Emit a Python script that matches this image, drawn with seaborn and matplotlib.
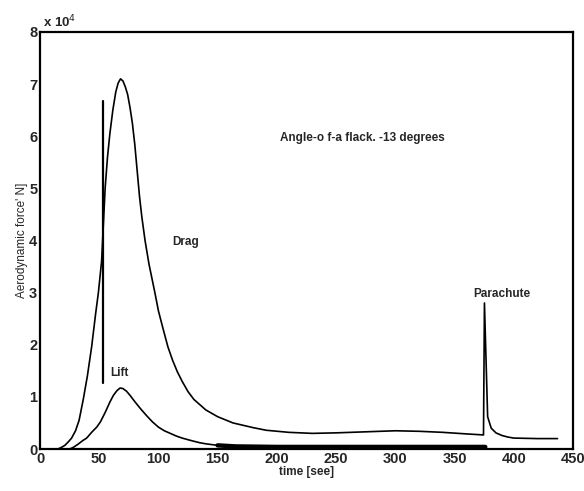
import numpy as np
import pandas as pd
import matplotlib
matplotlib.use("Agg")
import matplotlib.pyplot as plt
import seaborn as sns

# ---- data (force in units of 1e4 N) ----
drag_t = [15, 18, 21, 24, 26.7, 30, 33, 36.6, 40, 43.6, 47, 49.3, 52, 53.5, 55, 57,
          59, 61.5, 64, 66, 68, 70, 72, 74, 76, 78, 80, 82, 84, 86, 88.7, 92, 97, 100,
          104, 108, 112, 116, 120, 125, 130, 140, 150, 163, 180, 191, 210, 230, 250,
          275, 300, 320, 340, 360, 374.5, 375.3, 378, 381, 385, 390, 395, 400, 420, 437]
drag_f = [0.0, 0.03, 0.07, 0.14, 0.21, 0.35, 0.55, 0.96, 1.4, 1.96, 2.6, 3.0, 3.6,
          4.3, 5.0, 5.6, 6.05, 6.5, 6.85, 7.02, 7.1, 7.06, 6.95, 6.8, 6.55, 6.25,
          5.85, 5.35, 4.85, 4.45, 4.0, 3.55, 3.0, 2.65, 2.3, 1.96, 1.7, 1.48, 1.3,
          1.1, 0.95, 0.75, 0.62, 0.5, 0.41, 0.36, 0.32, 0.30, 0.31, 0.33, 0.35, 0.34,
          0.32, 0.29, 0.27, 2.8, 0.62, 0.4, 0.31, 0.26, 0.23, 0.21, 0.2, 0.2]

lift_t = [25, 28, 32, 36, 39.4, 44, 47.9, 51, 55, 59, 62, 65, 67.6, 70, 73, 76, 80,
          85, 90, 95, 100, 105, 110, 115, 120, 128, 135, 140, 150, 165, 200, 250,
          300, 350, 376]
lift_f = [0.0, 0.03, 0.09, 0.16, 0.21, 0.33, 0.42, 0.52, 0.7, 0.9, 1.03, 1.12, 1.17,
          1.16, 1.11, 1.03, 0.91, 0.77, 0.64, 0.52, 0.42, 0.35, 0.3, 0.25, 0.21, 0.16,
          0.12, 0.1, 0.07, 0.05, 0.04, 0.04, 0.04, 0.04, 0.04]

marker_t = [53, 53]
marker_f = [1.27, 6.68]

drag = pd.DataFrame({"t": drag_t, "f": drag_f})
lift = pd.DataFrame({"t": lift_t, "f": lift_f})
tail = lift[lift["t"] >= 150]

sns.set_style("white")
plt.rcParams["font.family"] = ["Liberation Sans", "DejaVu Sans"]

fig = plt.figure(figsize=(5.84, 4.91), dpi=100)
ax = fig.add_axes([0.0685, 0.0855, 0.9125, 0.8495])

sns.lineplot(data=drag, x="t", y="f", color="black", lw=1.2, sort=False, ax=ax)
sns.lineplot(data=lift, x="t", y="f", color="black", lw=1.2, sort=False, ax=ax)
# noisy lift tail shows as a thick band near zero
sns.lineplot(data=tail, x="t", y="f", color="black", lw=3.2, sort=False, ax=ax)
ax.plot(marker_t, marker_f, color="black", lw=1.6)

ax.set_xlim(0, 450)
ax.set_ylim(0, 8)
ax.set_xticks(range(0, 451, 50))
ax.set_yticks(range(0, 9))
ax.tick_params(direction="in", length=3, width=1, labelsize=10.5, pad=2)
for lbl in ax.get_xticklabels() + ax.get_yticklabels():
    lbl.set_fontweight("bold")
for s in ax.spines.values():
    s.set_linewidth(1.6)
    s.set_color("black")

ax.set_xlabel("time [see]", fontsize=8.5, fontweight="bold", labelpad=0)
ax.set_ylabel("Aerodynamic force' N]", fontsize=8.5, labelpad=1)

ax.text(0.005, 1.005, r"x 10$^{4}$", transform=ax.transAxes, fontsize=9.5,
        fontweight="bold", ha="left", va="bottom")
ax.text(112, 3.97, "Drag", fontsize=8.5, fontweight="bold", va="center")
ax.text(59, 1.46, "Lift", fontsize=8.5, fontweight="bold", va="center")
ax.text(366, 2.98, "Parachute", fontsize=8.5, fontweight="bold", va="center")
ax.text(203, 5.97, "Angle-o f-a flack. -13 degrees", fontsize=8.5,
        fontweight="bold", va="center")

fig.savefig("out.png", dpi=100)
